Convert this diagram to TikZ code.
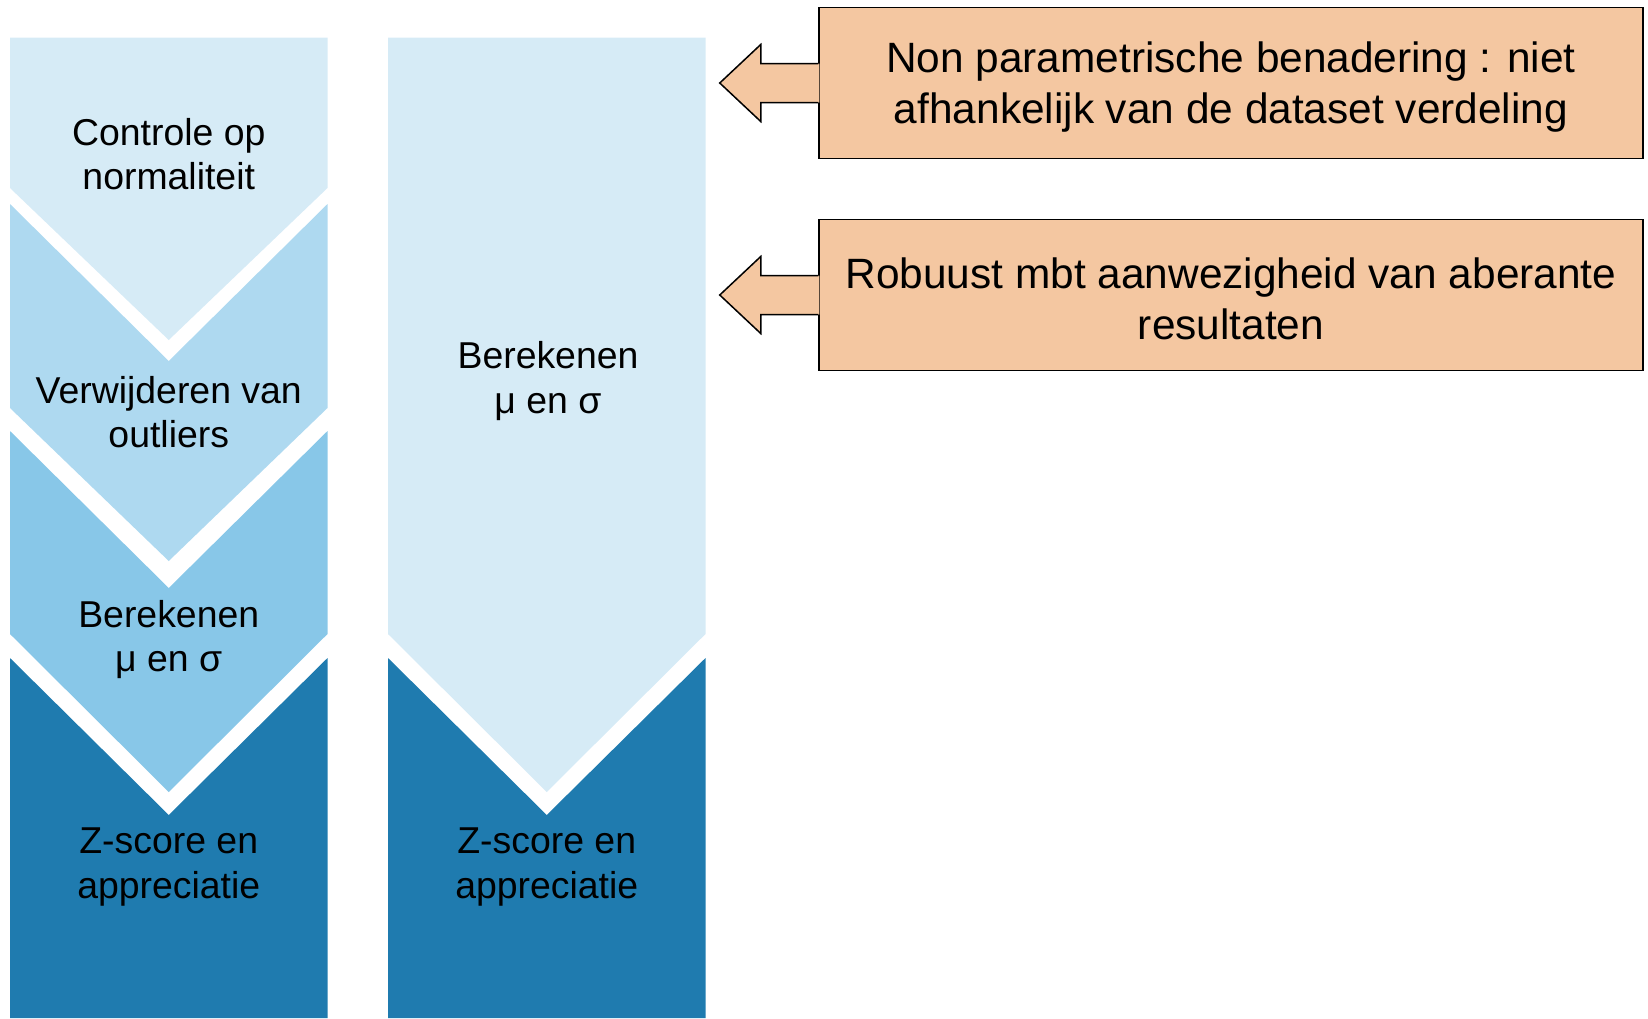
\documentclass[tikz,border=0pt]{standalone}
\usepackage{fontspec}
\setmainfont{Liberation Sans}
\begin{document}
\begin{tikzpicture}[x=1pt,y=-1pt]
\definecolor{cA}{RGB}{214,235,246}
\definecolor{cB}{RGB}{174,217,240}
\definecolor{cC}{RGB}{136,199,232}
\definecolor{cD}{RGB}{31,123,175}
\definecolor{peach}{RGB}{244,199,161}
\tikzset{
  coltext/.style={align=center, inner sep=0pt, font=\fontsize{37.4}{44.5}\selectfont},
  notebox/.style={draw=black, line width=1.5pt, fill=peach, minimum width=824pt, minimum height=151pt, inner sep=0pt},
  notetext/.style={align=center, inner sep=0pt, font=\fontsize{42.4}{51}\selectfont},
  arrowfill/.style={fill=peach},
  arrowline/.style={draw=black, line width=1.5pt, line join=miter}
}
\useasboundingbox (0,0) rectangle (1648,1018);
% left column
\fill[cA] (10,37.5) -- (327.5,37.5) -- (327.5,188) -- (168.75,340) -- (10,188) -- cycle;
\fill[cB] (10,204) -- (168.75,361) -- (327.5,204) -- (327.5,408) -- (168.75,561) -- (10,408) -- cycle;
\fill[cC] (10,431) -- (168.75,588) -- (327.5,431) -- (327.5,634) -- (168.75,792) -- (10,634) -- cycle;
\fill[cD] (10,658) -- (168.75,815) -- (327.5,658) -- (327.5,1018) -- (10,1018) -- cycle;
% right column
\fill[cA] (388,37.5) -- (705.5,37.5) -- (705.5,634) -- (546.75,792) -- (388,634) -- cycle;
\fill[cD] (388,658) -- (546.75,815) -- (705.5,658) -- (705.5,1018) -- (388,1018) -- cycle;
% column texts
\node[coltext] (l1) at (168.75,154) {Controle op\\normaliteit};
\node[coltext] (l2) at (168.75,412) {Verwijderen van\\outliers};
\node[coltext] (l3) at (168.75,639.5) {Berekenen\\μ en σ};
\node[coltext] (l4) at (168.75,867) {Z-score en\\appreciatie};
\node[coltext] (r1) at (548,381) {Berekenen\\μ en σ};
\node[coltext] (r2) at (546.75,867) {Z-score en\\appreciatie};
% note boxes
\node[notebox] (b1) at (1231,83) {};
\node[notebox] (b2) at (1231,295) {};
\node[notetext] (b1t) at ([yshift=-4pt]b1.center) {Non parametrische benadering : niet\\afhankelijk van de dataset verdeling};
\node[notetext] (b2t) at ([yshift=-4pt]b2.center) {Robuust mbt aanwezigheid van aberante\\resultaten};
% arrows
\foreach \b in {b1,b2}{
  \begin{scope}[shift={(\b.west)}]
    \fill[arrowfill] (1,-19.5) -- (-57.5,-19.5) -- (-57.5,-38.5) -- (-98.5,0) -- (-57.5,38.5) -- (-57.5,19.5) -- (1,19.5) -- cycle;
    \draw[arrowline] (0,-19.5) -- (-57.5,-19.5) -- (-57.5,-38.5) -- (-98.5,0) -- (-57.5,38.5) -- (-57.5,19.5) -- (0,19.5);
  \end{scope}
}
\end{tikzpicture}
\end{document}
